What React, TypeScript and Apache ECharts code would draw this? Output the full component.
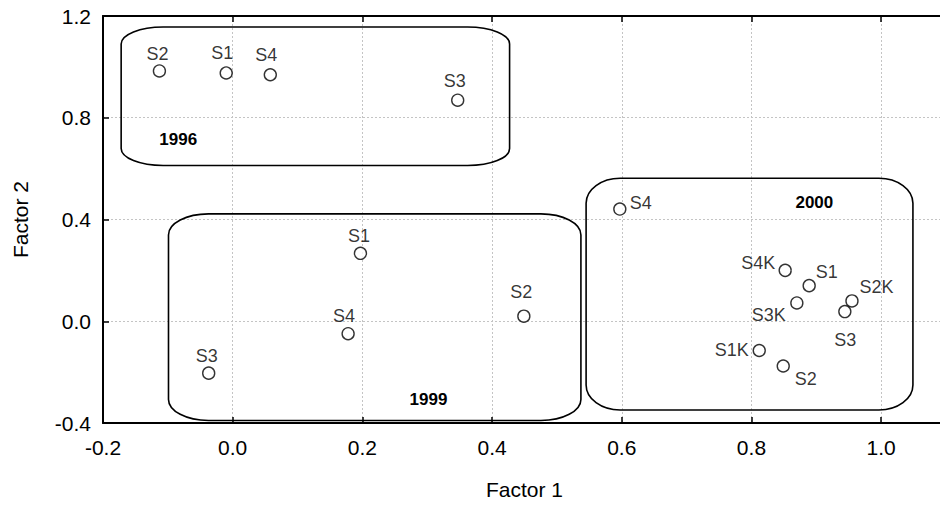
import React, { useEffect, useRef } from "react";
import * as echarts from "echarts";

// ---- data ----
const names1996 = ["S2", "S1", "S4", "S3"];
const x1996 = [-0.113, -0.01, 0.058, 0.347];
const y1996 = [0.984, 0.976, 0.969, 0.869];

const names1999 = ["S1", "S4", "S2", "S3"];
const x1999 = [0.197, 0.178, 0.449, -0.037];
const y1999 = [0.267, -0.049, 0.02, -0.204];

const names2000 = ["S4", "S4K", "S1", "S3K", "S2K", "S3", "S1K", "S2"];
const x2000 = [0.597, 0.852, 0.889, 0.87, 0.955, 0.944, 0.812, 0.849];
const y2000 = [0.441, 0.2, 0.14, 0.072, 0.08, 0.038, -0.115, -0.176];

// group enclosures in data space: [x0, x1, y0, y1, labelX, labelY]
const boxYears = ["1996", "1999", "2000"];
const box1996 = [-0.172, 0.427, 0.612, 1.157, -0.084, 0.713];
const box1999 = [-0.099, 0.537, -0.39, 0.422, 0.302, -0.307];
const box2000 = [0.545, 1.049, -0.349, 0.562, 0.897, 0.466];

const xTicks = { min: -0.2, max: 1.1, interval: 0.2 };
const yTicks = { min: -0.4, max: 1.2, interval: 0.4 };

// ---- styling ----
const FONT = '"Liberation Sans", Arial, sans-serif';
const cornerRadii: Record<string, [number, number]> = {
  "1996": [42, 17],
  "1999": [40, 21],
  "2000": [34, 25],
};
const labelOffsets: Record<string, [number, number]> = {
  "1996-S2": [-2, -17],
  "1996-S1": [-4, -20],
  "1996-S4": [-4, -20],
  "1996-S3": [-3, -19],
  "1999-S1": [-1.5, -17.5],
  "1999-S4": [-4, -17.5],
  "1999-S2": [-2.5, -24],
  "1999-S3": [-2, -17.5],
  "2000-S4": [21, -6],
  "2000-S4K": [-27, -7.5],
  "2000-S1": [17.5, -13.5],
  "2000-S3K": [-28, 12],
  "2000-S2K": [24.5, -14],
  "2000-S3": [0.5, 28],
  "2000-S1K": [-27.5, -1],
  "2000-S2": [22.5, 12.5],
};

function buildPoints(year: string, names: string[], xs: number[], ys: number[]) {
  return names.map((n, i) => ({
    name: n,
    value: [xs[i], ys[i]],
    label: { offset: labelOffsets[`${year}-${n}`] || [0, -18] },
  }));
}

export default function App() {
  const ref = useRef<HTMLDivElement>(null);

  useEffect(() => {
    if (!ref.current) return;
    const chart = echarts.init(ref.current, undefined, { renderer: "svg" });

    const points = [
      ...buildPoints("1996", names1996, x1996, y1996),
      ...buildPoints("1999", names1999, x1999, y1999),
      ...buildPoints("2000", names2000, x2000, y2000),
    ];
    const boxes = [box1996, box1999, box2000];

    const axisLine = { show: true, onZero: false, lineStyle: { color: "#000", width: 2 } };
    const axisTick = { show: true, inside: true, length: 6, lineStyle: { color: "#000", width: 1.5 } };
    const splitLine = { show: true, lineStyle: { color: "#c4c4c4", width: 1, type: [2, 2] as any } };
    const fmt = (v: number) => v.toFixed(1);

    chart.setOption({
      animation: false,
      grid: { left: 103, top: 16, width: 843, height: 407, outerBoundsMode: "none", containLabel: false },
      xAxis: [
        {
          type: "value",
          position: "bottom",
          ...xTicks,
          axisLine,
          axisTick,
          splitLine,
          axisLabel: {
            margin: 14,
            fontSize: 21,
            color: "#000",
            fontFamily: FONT,
            showMaxLabel: false,
            formatter: fmt,
          },
          name: "Factor 1",
          nameLocation: "middle",
          nameGap: 56,
          nameTextStyle: { fontSize: 21, color: "#000", fontFamily: FONT },
        },
        {
          type: "value",
          position: "top",
          ...xTicks,
          axisLine,
          axisTick,
          splitLine: { show: false },
          axisLabel: { show: false },
        },
      ],
      yAxis: [
        {
          type: "value",
          position: "left",
          ...yTicks,
          axisLine,
          axisTick,
          splitLine,
          axisLabel: {
            margin: 12,
            fontSize: 21,
            color: "#000",
            fontFamily: FONT,
            formatter: fmt,
          },
          name: "Factor 2",
          nameLocation: "middle",
          nameGap: 72,
          nameTextStyle: { fontSize: 21, color: "#000", fontFamily: FONT },
        },
        {
          type: "value",
          position: "right",
          ...yTicks,
          axisLine,
          axisTick,
          splitLine: { show: false },
          axisLabel: { show: false },
        },
      ],
      series: [
        {
          type: "custom",
          silent: true,
          clip: false,
          encode: { x: [0, 1, 4], y: [2, 3, 5] },
          data: boxes,
          renderItem: (params: any, api: any) => {
            const idx = params.dataIndex;
            const year = boxYears[idx];
            const [rx, ry] = cornerRadii[year];
            const tl = api.coord([api.value(0), api.value(3)]);
            const br = api.coord([api.value(1), api.value(2)]);
            const L = tl[0], T = tl[1], R = br[0], B = br[1];
            const d =
              `M${L + rx} ${T} L${R - rx} ${T} A${rx} ${ry} 0 0 1 ${R} ${T + ry} ` +
              `L${R} ${B - ry} A${rx} ${ry} 0 0 1 ${R - rx} ${B} ` +
              `L${L + rx} ${B} A${rx} ${ry} 0 0 1 ${L} ${B - ry} ` +
              `L${L} ${T + ry} A${rx} ${ry} 0 0 1 ${L + rx} ${T} Z`;
            const lp = api.coord([api.value(4), api.value(5)]);
            return {
              type: "group",
              children: [
                {
                  type: "path",
                  shape: { pathData: d },
                  style: { fill: "none", stroke: "#000", lineWidth: 1.6 },
                },
                {
                  type: "text",
                  x: lp[0],
                  y: lp[1],
                  style: {
                    text: year,
                    font: `bold 17px ${FONT}`,
                    fill: "#000",
                    align: "center",
                    verticalAlign: "middle",
                  },
                },
              ],
            };
          },
        },
        {
          type: "scatter",
          symbol: "circle",
          symbolSize: 12,
          itemStyle: { color: "#fff", borderColor: "#000", borderWidth: 1.4 },
          label: {
            show: true,
            position: "inside",
            formatter: (p: any) => p.name,
            fontSize: 18,
            color: "#000",
            fontFamily: FONT,
          },
          data: points,
          z: 3,
        },
      ],
    });

    return () => chart.dispose();
  }, []);

  return (
    <div
      ref={ref}
      style={{ position: "absolute", left: 0, top: 0, width: 940, height: 507, background: "#fff" }}
    />
  );
}
